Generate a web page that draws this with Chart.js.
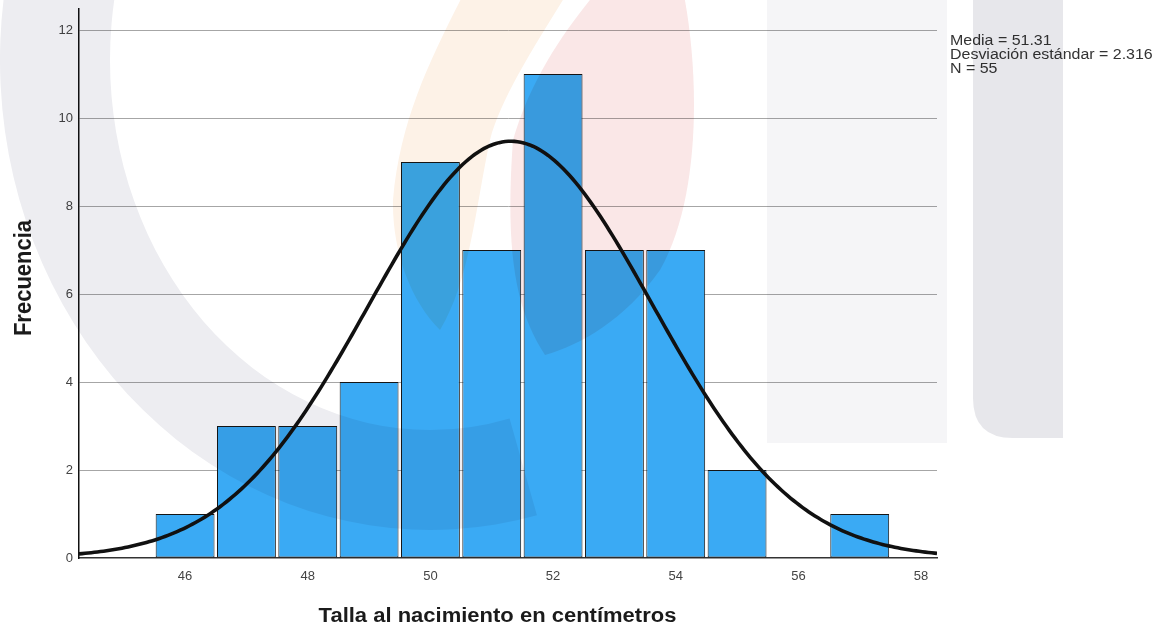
<!DOCTYPE html>
<html>
<head>
<meta charset="utf-8">
<script src="https://cdn.jsdelivr.net/npm/chart.js@4.4.1/dist/chart.umd.min.js"></script>
<style>
  html, body { margin: 0; padding: 0; background: #ffffff; }
  #wrap { width: 1165px; height: 629px; position: relative; }
</style>
</head>
<body>
<div id="wrap"><canvas id="chart" width="1165" height="629"></canvas></div>
<script>
// Birth length histogram, one-centimetre bins
const binCenters  = [46, 47, 48, 49, 50, 51, 52, 53, 54, 55, 56, 57];
const frequencies = [1, 3, 3, 4, 9, 7, 11, 7, 7, 2, 0, 1];
const xTicks = [46, 48, 50, 52, 54, 56, 58];
const yTicks = [0, 2, 4, 6, 8, 10, 12];

// Summary statistics shown in the corner and used for the fitted normal curve
const MEAN = 51.31;
const SD = 2.316;
const N = 55;
const BIN_WIDTH = 1;

const X_MIN = 44.27, X_MAX = 58.26;
const Y_MAX = 12.48;

const xTitle = 'Talla al nacimiento en centímetros';
const yTitle = 'Frecuencia';
const statLines = [
  'Media = ' + MEAN.toFixed(2),
  'Desviación estándar = ' + SD.toFixed(3),
  'N = ' + N
];

// Normal density scaled to counts (N * bin width)
function normalCount(x) {
  const z = (x - MEAN) / SD;
  return N * BIN_WIDTH / (SD * Math.sqrt(2 * Math.PI)) * Math.exp(-0.5 * z * z);
}
const curvePoints = [];
for (let i = 0; ; i++) {
  const x = X_MIN + i * 0.05;
  if (x >= X_MAX) break;
  curvePoints.push({ x: x, y: normalCount(x) });
}
curvePoints.push({ x: X_MAX, y: normalCount(X_MAX) });

const FONT = '"Liberation Sans", Arial, Helvetica, sans-serif';

// Faint background emblem, axis titles and the statistics box
const decorations = {
  id: 'decorations',
  afterDraw(chart) {
    const ctx = chart.ctx;

    // titles
    ctx.save();
    ctx.fillStyle = '#1b1b1b';
    ctx.font = 'bold 20px ' + FONT;
    ctx.textAlign = 'center';
    ctx.textBaseline = 'alphabetic';
    ctx.translate(497.5, 622);
    ctx.scale(1.1, 1);
    ctx.fillText(xTitle, 0, 0);
    ctx.restore();

    ctx.save();
    ctx.fillStyle = '#1b1b1b';
    ctx.font = 'bold 22px ' + FONT;
    ctx.textAlign = 'center';
    ctx.textBaseline = 'alphabetic';
    ctx.translate(31, 278);
    ctx.scale(1.1, 1);
    ctx.rotate(-Math.PI / 2);
    ctx.fillText(yTitle, 0, 0);
    ctx.restore();

    // statistics
    ctx.save();
    ctx.fillStyle = '#333333';
    ctx.font = '14px ' + FONT;
    ctx.textAlign = 'left';
    ctx.textBaseline = 'alphabetic';
    statLines.forEach((t, i) => {
      ctx.save();
      ctx.translate(950, 45 + i * 14);
      ctx.scale(1.14, 1);
      ctx.fillText(t, 0, 0);
      ctx.restore();
    });
    ctx.restore();

    // emblem, blended so it tints whatever lies beneath
    ctx.save();
    ctx.globalCompositeOperation = 'multiply';

    // large grey arc on the left
    ctx.fillStyle = 'rgb(237,237,241)';
    ctx.beginPath();
    ctx.ellipse(430, 60, 430, 470, 0, Math.PI * 0.42, Math.PI * 1.5, false);
    ctx.ellipse(430, 60, 320, 370, 0, Math.PI * 1.5, Math.PI * 0.42, true);
    ctx.closePath();
    ctx.fill();

    // flame: warm left lobe
    ctx.fillStyle = 'rgb(253,242,231)';
    ctx.beginPath();
    ctx.moveTo(463, -5);
    ctx.lineTo(566, -5);
    ctx.bezierCurveTo(535, 45, 500, 100, 490, 140);
    ctx.bezierCurveTo(475, 210, 470, 280, 440, 330);
    ctx.bezierCurveTo(410, 300, 392, 250, 393, 200);
    ctx.bezierCurveTo(400, 120, 430, 60, 463, -5);
    ctx.closePath();
    ctx.fill();

    // flame: red right lobe
    ctx.fillStyle = 'rgb(250,231,231)';
    ctx.beginPath();
    ctx.moveTo(594, -5);
    ctx.lineTo(684, -5);
    ctx.bezierCurveTo(700, 80, 700, 200, 660, 270);
    ctx.bezierCurveTo(625, 320, 580, 345, 545, 355);
    ctx.bezierCurveTo(515, 310, 505, 250, 513, 140);
    ctx.bezierCurveTo(530, 80, 565, 30, 594, -5);
    ctx.closePath();
    ctx.fill();

    // vertical bands on the right
    ctx.fillStyle = 'rgb(245,245,247)';
    ctx.fillRect(767, 0, 180, 443);
    ctx.fillStyle = 'rgb(231,231,235)';
    ctx.beginPath();
    ctx.moveTo(973, 0);
    ctx.lineTo(1063, 0);
    ctx.lineTo(1063, 438);
    ctx.lineTo(1013, 438);
    ctx.quadraticCurveTo(973, 438, 973, 398);
    ctx.closePath();
    ctx.fill();

    ctx.restore();
  }
};

new Chart(document.getElementById('chart'), {
  type: 'bar',
  data: {
    datasets: [
      {
        type: 'line',
        data: curvePoints,
        borderColor: '#111111',
        borderWidth: 3.6,
        pointRadius: 0,
        tension: 0,
        fill: false,
        order: 0
      },
      {
        type: 'bar',
        data: binCenters.map((x, i) => ({ x: x, y: frequencies[i] || null })),
        backgroundColor: '#3aaaf4',
        borderColor: '#151515',
        borderWidth: 1,
        borderSkipped: false,
        barPercentage: 0.96,
        categoryPercentage: 1,
        order: 1
      }
    ]
  },
  options: {
    responsive: false,
    animation: false,
    layout: { padding: { top: 9, right: 228, left: 0, bottom: 0 } },
    plugins: { legend: { display: false }, tooltip: { enabled: false } },
    scales: {
      x: {
        type: 'linear',
        min: X_MIN,
        max: X_MAX,
        offset: false,
        grid: { display: false, drawTicks: false },
        border: { display: true, color: '#333333', width: 1.5 },
        ticks: { color: '#444444', font: { family: FONT, size: 13 }, padding: 11 },
        afterBuildTicks: s => { s.ticks = xTicks.map(v => ({ value: v })); },
        afterFit: s => { s.height = 71; s.paddingLeft = 0; s.paddingRight = 0; }
      },
      y: {
        min: 0,
        max: Y_MAX,
        grid: {
          drawTicks: false,
          lineWidth: 1,
          color: c => (c.tick && c.tick.value === 0) ? 'rgba(0,0,0,0)' : '#a6a6a6'
        },
        border: { display: true, color: '#111111', width: 1.5 },
        ticks: { color: '#444444', font: { family: FONT, size: 13 }, padding: 6 },
        afterBuildTicks: s => { s.ticks = yTicks.map(v => ({ value: v })); },
        afterFit: s => { s.width = 79; s.paddingTop = 0; s.paddingBottom = 0; }
      }
    }
  },
  plugins: [decorations]
});
</script>
</body>
</html>
